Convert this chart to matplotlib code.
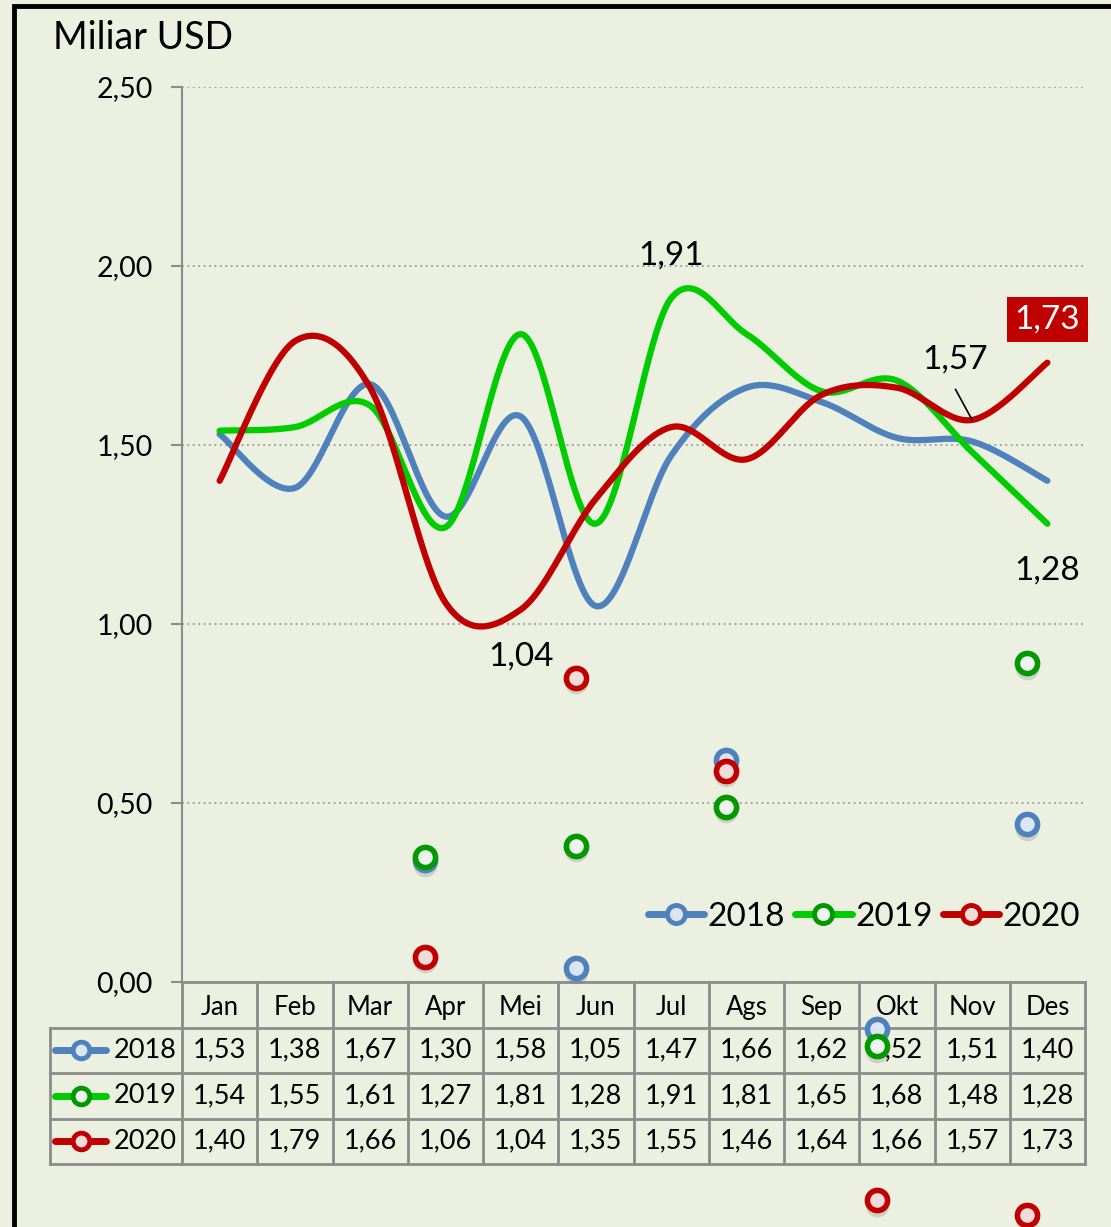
import numpy as np
import matplotlib
matplotlib.use("Agg")
import matplotlib.pyplot as plt
from matplotlib.patches import Rectangle
from matplotlib.lines import Line2D
from matplotlib.ticker import FuncFormatter

months = ["Jan", "Feb", "Mar", "Apr", "Mei", "Jun", "Jul", "Ags", "Sep", "Okt", "Nov", "Des"]
years = ["2018", "2019", "2020"]
v2018 = [1.53, 1.38, 1.67, 1.30, 1.58, 1.05, 1.47, 1.66, 1.62, 1.52, 1.51, 1.40]
v2019 = [1.54, 1.55, 1.61, 1.27, 1.81, 1.28, 1.91, 1.81, 1.65, 1.68, 1.48, 1.28]
v2020 = [1.40, 1.79, 1.66, 1.06, 1.04, 1.35, 1.55, 1.46, 1.64, 1.66, 1.57, 1.73]

# stray markers seen in the picture (x in month units, y in value units)
stray_x = [2.73, 4.73, 6.73, 8.73, 10.73]
stray2018 = [0.34, 0.04, 0.62, -0.13, 0.44]
stray2019 = [0.35, 0.38, 0.49, -0.18, 0.89]
stray2020 = [0.07, 0.85, 0.59, -0.61, -0.65]

colors = {"2018": "#4F81BD", "2019": "#00CC00", "2020": "#C00000"}
edge = {"2018": "#4F81BD", "2019": "#009900", "2020": "#C00000"}
face = {"2018": "#DCE6F2", "2019": "#EEF5EE", "2020": "#F2DCDB"}
bg = "#EBF0E0"

plt.rcParams["font.family"] = ["Lato", "DejaVu Sans"]

W, H = 1111, 1227
fig = plt.figure(figsize=(W / 100, H / 100), dpi=100)
fig.patch.set_facecolor(bg)


def smooth(vals, sx=75.25, sy=358.0, n=30):
    """Excel-like smoothed line (Catmull-Rom as Bezier) in pixel-ish space."""
    P = np.array([[i * sx, v * sy] for i, v in enumerate(vals)])
    P = np.vstack([P[0], P, P[-1]])
    out = []
    t = np.linspace(0, 1, n)[:, None]
    for k in range(1, len(P) - 2):
        p0, p1, p2, p3 = P[k - 1], P[k], P[k + 1], P[k + 2]
        c1 = p1 + (p2 - p0) / 6
        c2 = p2 - (p3 - p1) / 6
        seg = (1 - t) ** 3 * p1 + 3 * (1 - t) ** 2 * t * c1 + 3 * (1 - t) * t ** 2 * c2 + t ** 3 * p2
        out.append(seg if k == 1 else seg[1:])
    out = np.vstack(out)
    return out[:, 0] / sx, out[:, 1] / sy


# table axes (behind)
tax = fig.add_axes([50 / W, 1 - 1164 / H, (1085 - 50) / W, (1164 - 982) / H])
tax.set_xlim(-0.5 - 132 / 75.25, 11.5)
tax.set_ylim(4, 0)
tax.axis("off")
gc = "#8C8C8C"
left = -0.5 - 132 / 75.25
tax.plot([-0.5, 11.5], [0, 0], color=gc, lw=2, clip_on=False)
for r in [1, 2, 3, 4]:
    tax.plot([left, 11.5], [r, r], color=gc, lw=2, clip_on=False)
for c in np.arange(-0.5, 12, 1):
    tax.plot([c, c], [0, 4], color=gc, lw=2, clip_on=False)
tax.plot([left, left], [1, 4], color=gc, lw=2, clip_on=False)
for i, m in enumerate(months):
    tax.text(i, 0.55, m, ha="center", va="center", fontsize=18.5)
for r, (y, vals) in enumerate(zip(years, [v2018, v2019, v2020])):
    for i, v in enumerate(vals):
        tax.text(i, r + 1.5, f"{v:.2f}".replace(".", ","), ha="center", va="center", fontsize=19.5)
    lx = left + 5 / 75.25
    tax.plot([lx, lx + 0.68], [r + 1.5, r + 1.5], color=colors[y], lw=5,
             solid_capstyle="round", clip_on=False)
    tax.plot([lx + 0.34], [r + 1.5], "o", ms=12, mfc=face[y], mec=edge[y], mew=3.5, clip_on=False)
    tax.text(left + 0.85, r + 1.5, y, ha="left", va="center", fontsize=19.5)

# main chart
ax = fig.add_axes([182 / W, 1 - 982 / H, 903 / W, 895 / H])
ax.set_facecolor("none")
ax.set_xlim(-0.5, 11.5)
ax.set_ylim(0, 2.5)
ax.set_yticks([0, 0.5, 1.0, 1.5, 2.0, 2.5])
ax.yaxis.set_major_formatter(FuncFormatter(lambda v, p: f"{v:.2f}".replace(".", ",")))
ax.tick_params(axis="y", length=8, width=1.5, color=gc, pad=13, labelsize=20.5)
ax.set_xticks([])
for s in ["top", "right", "bottom"]:
    ax.spines[s].set_visible(False)
ax.spines["left"].set_color(gc)
ax.spines["left"].set_linewidth(1.5)
for g in [0.5, 1.0, 1.5, 2.0, 2.5]:
    ax.axhline(g, color="#999999", lw=1.3, ls=(0, (1, 2)), zorder=1)

series = {"2018": v2018, "2019": v2019, "2020": v2020}
for y in years:
    xs, ys = smooth(series[y])
    ax.plot(xs, ys, color=colors[y], lw=4.5, solid_capstyle="round", zorder=3)

# stray markers with a soft shadow
for y, sv in zip(years, [stray2018, stray2019, stray2020]):
    ax.plot(stray_x, np.array(sv) - 0.012, "o", ms=17, color="#777777", alpha=0.25,
            mew=0, clip_on=False, zorder=4)
    ax.plot(stray_x, sv, "o", ms=14.5, mfc=face[y], mec=edge[y], mew=4, clip_on=False, zorder=5)

# data labels
ax.text(6, 1.91 + 0.12, "1,91", ha="center", va="center", fontsize=24)
ax.text(4, 1.04 - 0.13, "1,04", ha="center", va="center", fontsize=24)
ax.text(11, 1.28 - 0.13, "1,28", ha="center", va="center", fontsize=24)
ax.text(9.78, 1.57 + 0.17, "1,57", ha="center", va="center", fontsize=24)
ax.plot([9.78, 10.0], [1.655, 1.57], color="black", lw=1.2, zorder=6)
ax.text(11, 1.73 + 0.12, "1,73", ha="center", va="center", fontsize=24, color="white",
        bbox=dict(boxstyle="square,pad=0.22", fc="#C00000", ec="none"))

handles = [Line2D([], [], color=colors[y], lw=5, solid_capstyle="round", marker="o", ms=13,
                  mfc=face[y], mec=edge[y], mew=3.5) for y in years]
ax.legend(handles, years, loc="center", bbox_to_anchor=(0.755, 0.073), ncol=3, frameon=False,
          fontsize=24, handlelength=1.7, handletextpad=0.1, columnspacing=0.3)

fig.text(53 / W, 1 - 38 / H, "Miliar USD", ha="left", va="center", fontsize=27)

# outer frame
fig.add_artist(Rectangle((14 / W, -0.1), 1.2, 1 - 6 / H + 0.1, transform=fig.transFigure,
                         fill=False, ec="black", lw=3.5))

fig.savefig("out.png", dpi=100, facecolor=bg)
